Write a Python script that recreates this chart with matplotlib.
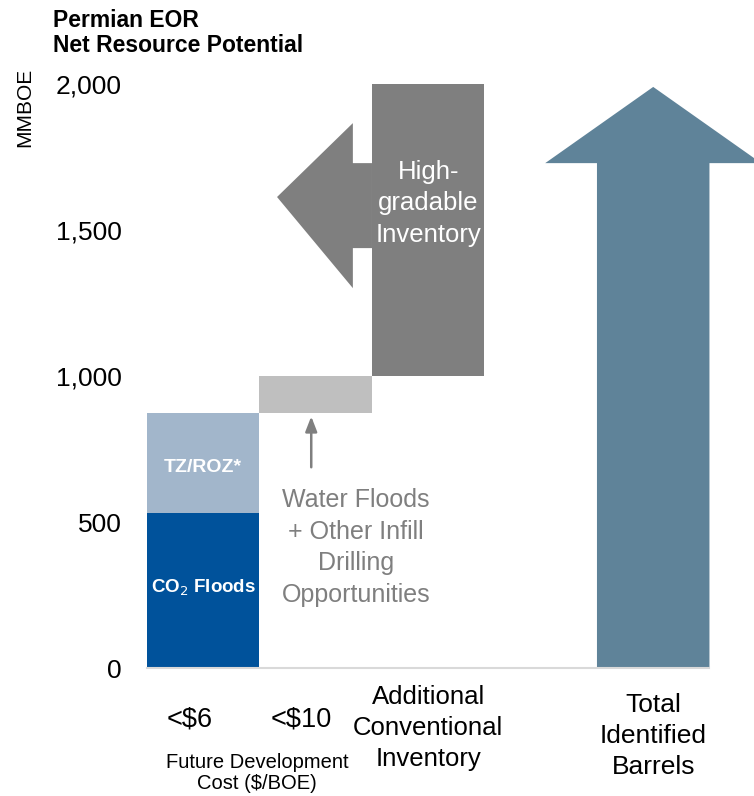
import matplotlib.pyplot as plt
from matplotlib.patches import Polygon

plt.rcParams['font.family'] = ['Liberation Sans', 'DejaVu Sans']

# data (MMBOE)
co2_floods = 530
tz_roz = 343
water_floods = 127      # <$10 step up to 1,000
highgrade_bottom = 1000
highgrade_top = 2000
total_barrels = 1990
yticks = [0, 500, 1000, 1500, 2000]
ytick_labels = ['0', '500', '1,000', '1,500', '2,000']

# left arrow (high-gradable): tip, head base, head extent, shaft extent
left_tip = (0.656, 1613)
left_head_x = 1.33
left_head = (1301, 1866)
left_shaft = (1438, 1729)
# total arrow head
total_head_y = 1729

col_co2 = '#00529b'
col_tz = '#a2b6cb'
col_wf = '#bfbfbf'
col_hg = '#7f7f7f'
col_tot = '#5f8399'

fig = plt.figure(figsize=(7.54, 7.96), dpi=100)
ax = fig.add_axes([147/754, 1 - 668/796, 1 - 147/754, 584/796])
ax.set_xlim(-0.5, 4.896)
ax.set_ylim(0, 2000)

# stacked / waterfall bars
ax.bar(0, co2_floods, width=1.0, color=col_co2)
ax.bar(0, tz_roz, width=1.0, bottom=co2_floods, color=col_tz)
wf_bottom = co2_floods + tz_roz
ax.bar(1, water_floods, width=1.0, bottom=wf_bottom, color=col_wf)
ax.bar(2, highgrade_top - highgrade_bottom, width=1.0, bottom=highgrade_bottom, color=col_hg)

# left pointing arrow coming out of the high-gradable bar
ax.add_patch(Polygon([(1.5, left_shaft[0]), (left_head_x, left_shaft[0]), (left_head_x, left_head[0]),
                      left_tip, (left_head_x, left_head[1]), (left_head_x, left_shaft[1]),
                      (1.5, left_shaft[1])],
                     closed=True, color=col_hg, lw=0))

# total identified barrels arrow
ax.add_patch(Polygon([(3.5, 0), (3.5, total_head_y), (3.04, total_head_y), (4, total_barrels),
                      (4.96, total_head_y), (4.5, total_head_y), (4.5, 0)],
                     closed=True, color=col_tot, lw=0, clip_on=False))

# small annotation arrow under the <$10 bar
ax.annotate('', xy=(0.96, wf_bottom - 2), xytext=(0.96, 678),
            arrowprops=dict(arrowstyle='-|>,head_width=0.35,head_length=0.9', color='#7f7f7f', lw=1.8))

# labels inside the chart
ax.text(0, 685, 'TZ/ROZ*', color='white', fontsize=14, fontweight='bold', ha='center', va='center')
ax.text(0, 274, 'CO$_2$ Floods', color='white', fontsize=13.5, fontweight='bold', ha='center', va='center')
ax.text(2, 1592, 'High-\ngradable\nInventory', color='white', fontsize=18.5, ha='center', va='center',
        linespacing=1.4)
ax.text(1.36, 412, 'Water Floods\n+ Other Infill\nDrilling\nOpportunities', color='#7f7f7f',
        fontsize=18, ha='center', va='center', linespacing=1.4)

# axes styling
ax.set_yticks(yticks)
ax.set_yticklabels(ytick_labels, fontsize=19)
ax.tick_params(axis='y', length=0, pad=18)
ax.set_xticks([])
for s in ['top', 'right', 'left']:
    ax.spines[s].set_visible(False)
ax.spines['bottom'].set_color('#d9d9d9')
ax.spines['bottom'].set_linewidth(1.5)
ax.spines['bottom'].set_bounds(-0.5, 4.5)

# category labels below the axis
ax.text(-0.12, -175, '<$6', fontsize=19.5, ha='center', va='center')
ax.text(0.87, -175, '<$10', fontsize=19.5, ha='center', va='center')
ax.text(0.48, -360, 'Future Development\nCost ($/BOE)', fontsize=14.5, ha='center', va='center',
        linespacing=1.1)
ax.text(2, -205, 'Additional\nConventional\nInventory', fontsize=18.5, ha='center', va='center',
        linespacing=1.35)
ax.text(4, -233, 'Total\nIdentified\nBarrels', fontsize=19, ha='center', va='center', linespacing=1.35)

# title and unit
fig.text(53/754, 1 - 9/796, 'Permian EOR\nNet Resource Potential', fontsize=16.5, fontweight='bold',
         ha='left', va='top', linespacing=1.1)
fig.text(25/754, 1 - 107/796, 'MMBOE', fontsize=15, rotation=90, ha='center', va='center')

fig.savefig('out.png', dpi=100)
